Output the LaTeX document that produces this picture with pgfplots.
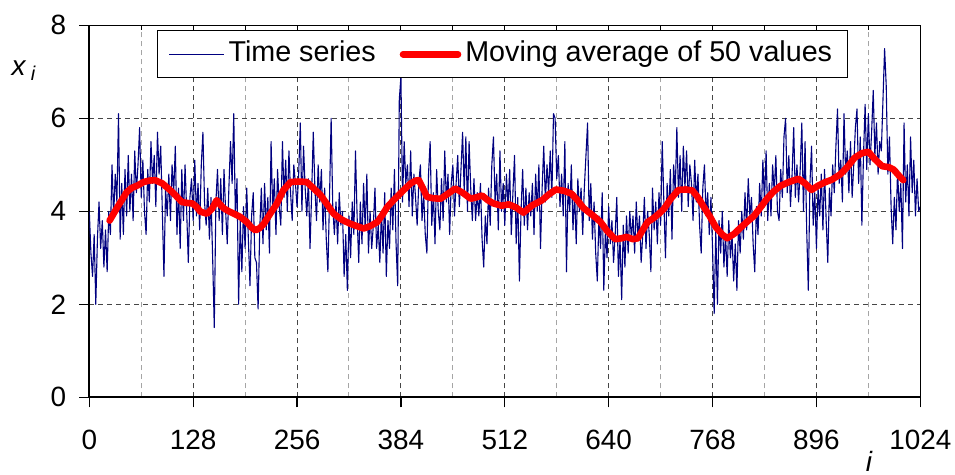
\documentclass[border=0pt]{standalone}
\usepackage{fontspec}
\setmainfont{Liberation Sans}
\usepackage{pgfplots}
\usepackage{pgfplotstable}
\pgfplotsset{compat=1.18}

\definecolor{seriesblue}{RGB}{0,0,128}
\definecolor{avgred}{RGB}{255,0,0}
\definecolor{gridmajor}{RGB}{70,70,70}
\definecolor{gridminor}{RGB}{165,165,165}

% time series x_i, sampled every second index (i = 0, 2, 4, ..., 1024)
\pgfplotstableread{
y
4.0
3.1
2.6
3.5
2.0
3.4
4.2
3.2
3.8
2.8
3.6
2.7
4.0
3.5
5.0
3.9
4.8
4.2
6.1
3.4
4.6
3.5
4.9
3.9
5.2
4.0
4.8
3.8
5.3
4.4
5.0
5.8
4.3
5.1
4.0
3.5
4.9
4.2
5.5
4.6
5.2
4.1
5.7
4.8
5.4
4.0
2.6
4.5
3.9
4.8
3.8
5.0
4.4
5.4
3.5
4.5
3.2
4.9
3.8
5.0
4.0
2.9
4.3
4.7
3.8
5.1
3.9
4.6
3.6
5.0
5.7
4.2
3.7
4.5
3.4
4.3
3.0
1.5
4.2
4.9
3.8
4.7
3.5
4.9
4.0
3.3
4.5
5.5
4.6
6.1
3.9
4.7
2.0
3.8
2.7
4.1
3.2
4.5
3.4
2.4
3.9
4.4
3.0
2.9
1.9
3.6
4.5
3.3
4.6
3.6
4.3
3.1
5.5
4.0
4.7
3.5
4.9
4.1
3.7
5.5
4.3
5.1
4.0
5.3
4.4
3.8
5.0
4.6
4.1
4.8
5.9
4.0
5.4
4.5
3.9
4.7
3.2
4.4
5.7
4.5
3.8
5.0
4.2
4.9
3.6
4.5
3.4
2.7
4.3
6.0
4.1
3.5
4.2
3.3
4.4
3.7
4.0
2.6
3.5
2.3
3.9
3.0
4.2
3.5
5.3
3.9
2.9
4.2
3.3
4.6
3.6
4.8
3.1
4.0
3.2
3.7
4.5
3.2
3.7
2.9
4.0
3.1
4.4
2.6
3.8
3.2
4.5
3.6
4.9
3.3
2.4
6.4
6.9
4.2
5.5
4.6
5.0
4.1
5.3
3.9
4.8
4.3
3.7
4.6
5.0
3.8
4.4
3.5
3.1
4.8
5.5
3.7
4.4
3.3
4.9
4.0
3.6
4.7
3.8
5.3
4.2
4.8
3.5
4.6
5.0
3.9
4.6
5.2
4.1
4.9
5.7
4.4
5.6
4.0
5.5
4.5
3.8
4.7
3.8
4.4
3.9
4.6
3.4
2.8
3.9
3.3
4.5
3.7
5.0
5.6
4.2
4.8
3.6
5.3
4.0
4.6
3.7
4.8
4.1
4.9
3.5
4.4
5.2
3.3
4.3
2.5
4.0
4.9
3.7
4.5
3.6
4.4
3.9
4.6
3.5
4.8
4.0
5.0
3.2
4.5
5.4
4.2
5.0
4.4
5.3
4.3
6.1
6.0
4.7
5.2
4.1
4.8
3.9
5.5
2.7
4.6
4.0
5.0
3.6
4.4
3.3
4.7
4.0
4.5
3.5
4.5
5.2
5.9
3.8
4.6
3.4
4.2
3.1
2.5
3.9
3.2
4.4
2.3
3.6
3.0
4.1
3.3
3.8
2.9
3.5
4.3
2.6
3.4
2.1
3.7
2.8
3.9
3.1
4.0
3.4
3.9
3.1
4.2
3.4
3.9
2.9
3.5
4.3
3.2
4.0
3.5
2.7
4.5
3.6
4.2
3.3
4.4
3.7
5.5
4.2
3.0
4.6
3.9
4.9
3.4
5.0
4.4
5.8
4.3
5.2
4.0
5.4
4.5
5.3
4.1
5.0
4.6
3.8
5.1
4.2
4.8
3.7
3.1
4.5
5.0
3.9
4.4
3.5
4.3
3.2
1.8
3.6
2.0
3.8
3.1
4.0
2.8
3.5
2.6
3.8
3.0
3.5
2.5
3.3
2.3
3.8
3.1
4.0
3.4
4.4
3.6
4.7
3.9
4.3
3.3
2.7
4.1
3.5
4.6
3.9
5.1
4.2
5.3
3.8
4.6
3.9
5.0
4.4
5.2
4.0
3.8
4.9
4.3
5.6
6.0
4.4
5.2
4.1
4.8
5.8
4.3
5.0
4.2
4.9
5.9
4.0
5.5
3.6
2.3
4.6
5.4
3.7
4.4
3.2
4.5
3.9
4.8
3.6
4.9
3.8
2.9
4.5
3.9
5.0
4.4
5.4
6.2
4.6
5.1
4.2
6.1
4.8
5.3
4.4
5.5
4.3
5.0
5.8
6.2
4.6
5.6
3.7
5.2
6.3
4.9
6.1
5.0
5.7
6.6
5.2
5.9
4.8
5.5
5.3
6.4
7.5
6.7
4.8
5.6
4.1
3.3
4.3
3.6
4.9
4.0
4.6
3.2
5.9
4.2
5.0
3.9
5.6
4.4
5.1
3.9
4.7
4.0
4.1
}\timeseries

% centred moving average of 50 values
\pgfplotstableread{
i y
25 3.80
30 3.95
35 4.10
40 4.24
46 4.41
52 4.50
60 4.56
67 4.63
74 4.66
81 4.67
90 4.60
100 4.45
107 4.33
114 4.20
120 4.18
127 4.17
132 4.10
137 3.99
145 3.95
151 4.05
157 4.24
161 4.15
166 4.06
172 4.00
178 3.95
186 3.88
194 3.77
200 3.65
205 3.59
210 3.64
215 3.73
223 3.95
231 4.16
239 4.45
248 4.63
258 4.64
268 4.63
276 4.50
285 4.35
293 4.15
301 3.95
311 3.82
322 3.73
330 3.68
338 3.63
346 3.68
355 3.77
361 3.92
367 4.09
375 4.24
383 4.38
390 4.50
396 4.60
402 4.66
406 4.67
411 4.50
416 4.31
424 4.28
433 4.27
442 4.38
451 4.49
460 4.40
470 4.27
477 4.30
484 4.34
491 4.24
498 4.17
508 4.12
517 4.15
526 4.08
535 3.97
546 4.13
558 4.24
566 4.36
575 4.47
585 4.44
594 4.38
601 4.25
609 4.07
620 3.92
630 3.77
638 3.58
648 3.40
656 3.42
662 3.45
670 3.40
676 3.42
682 3.60
688 3.77
695 3.85
702 3.95
708 4.05
717 4.28
726 4.46
735 4.47
743 4.45
750 4.30
757 4.10
765 3.88
772 3.66
780 3.50
786 3.42
795 3.52
802 3.64
811 3.78
819 3.90
827 4.08
835 4.27
843 4.42
852 4.55
862 4.63
874 4.70
882 4.60
890 4.46
898 4.55
906 4.62
915 4.68
925 4.79
934 4.95
943 5.15
952 5.25
960 5.28
968 5.12
977 4.97
985 4.95
991 4.90
997 4.78
1003 4.67
}\movavg

\begin{document}
\begin{tikzpicture}
\pgfplotsset{
  frame/.style={
    scale only axis,
    width=415.5bp, height=186bp,
    xmin=0, xmax=1024, ymin=0, ymax=8,
  },
}
\begin{axis}[
  frame,
  axis x line*=bottom, axis y line*=left,
  axis line style={black, line width=1bp},
  tick align=outside,
  major tick length=5bp,
  tick style={black, line width=0.6bp},
  xtick={0,128,...,1024},
  ytick={0,2,...,8},
  minor xtick={64,192,...,960},
  minor tick length=0pt,
  xmajorgrids, xminorgrids, ymajorgrids,
  major grid style={gridmajor, line width=0.5bp, dash pattern=on 2.5bp off 2bp},
  minor grid style={gridminor, line width=0.5bp, dash pattern=on 2.5bp off 2bp},
  /pgf/number format/assume math mode=true,
  /pgf/number format/set thousands separator={},
  tick label style={font=\fontsize{14}{16}\selectfont},
  xticklabel style={yshift=-8bp},
  yticklabel style={xshift=-3bp},
  xlabel={\textit{i}},
  xlabel style={at={(axis description cs:0.9386,-0.172)}, anchor=center,
    font=\fontsize{14}{16}\selectfont},
  ylabel={\textit{x}\,\raisebox{-0.35ex}{\fontsize{10}{12}\selectfont\textit{i}}},
  ylabel style={rotate=-90, at={(axis description cs:-0.0790,0.879)}, anchor=center,
    font=\fontsize{14}{16}\selectfont},
  legend columns=2,
  legend style={
    at={(axis description cs:0.497,0.9866)}, anchor=north,
    draw=black, line width=0.5bp, fill=white,
    font=\fontsize{14.4}{16}\selectfont,
    inner xsep=5.5bp, inner ysep=3bp,
    nodes={text height=10.5bp, text depth=3bp},
    /tikz/every even column/.append style={column sep=10bp},
  },
  legend image code/.code={\draw[#1] (0bp,0bp) -- (27.5bp,0bp);},
]
\addplot[seriesblue, line width=0.55bp, line join=round]
  table[x expr=\coordindex*2, y=y] {\timeseries};
\addlegendentry{Time series}
\addplot[avgred, line width=3.3bp, line join=round, line cap=round]
  table[x=i, y=y] {\movavg};
\addlegendentry{Moving average of 50 values}
\end{axis}
% thin top and right frame with short inward ticks every 64
\begin{axis}[
  frame,
  axis x line*=top, axis y line*=right,
  axis line style={black, line width=0.5bp},
  tick align=inside,
  major tick length=2.5bp,
  tick style={black, line width=0.5bp},
  xtick={0,64,...,1024}, xticklabels={},
  ytick=\empty,
]
\end{axis}
\pgfresetboundingbox
\path (current axis.south west) ++(-44.65bp,-38.85bp) rectangle ++(477.5bp,237.5bp);
\end{tikzpicture}
\end{document}
